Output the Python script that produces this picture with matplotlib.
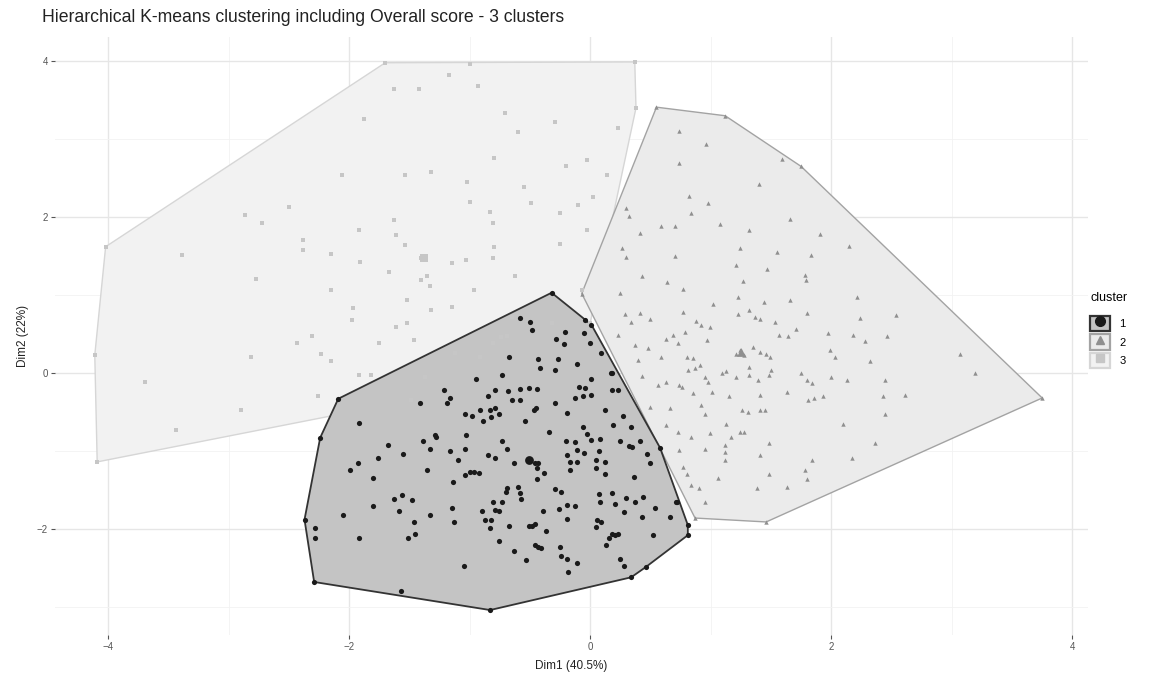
import numpy as np
import matplotlib
matplotlib.use("Agg")
import matplotlib.pyplot as plt
from matplotlib.patches import Polygon, Patch
from matplotlib.lines import Line2D

plt.rcParams['font.family'] = ['Liberation Sans', 'DejaVu Sans']

# cluster 1 (dark, circles)
c1_x = [-0.58, -0.50, -0.48, -0.21, -0.28, -0.05, -0.22, 0.00, 0.09, -0.67,
        -0.43, -0.27, -0.11, -0.42, -0.29, -0.73, -0.95, 0.01, 0.18, -1.21,
        -1.16, -1.19, -1.41, -0.85, -0.79, -0.68, -0.58, -0.51, -0.44, -0.65,
        -0.58, -0.09, -0.04, -0.13, -0.06, 0.01, 0.18, 0.23, -0.45, -0.47,
        -0.29, -0.91, -0.83, -0.79, -0.76, -1.04, -0.98, -0.89, -0.82, -0.54,
        -0.19, 0.12, 0.27, 0.19, -0.06, 0.34, -1.92, -1.28, -1.29, -1.03,
        -1.39, -1.33, -1.16, -1.04, -1.68, -1.55, -0.73, -0.69, -0.34, -0.03,
        0.25, 0.32, 0.35, 0.41, -0.20, -0.13, 0.01, 0.08, -0.11, -0.05,
        -0.19, 0.07, 0.47, 0.50, -1.76, -1.93, -1.99, -1.80, -1.35, -1.10,
        -0.85, -0.79, -0.63, -0.46, -0.43, -0.44, -0.38, -0.44, -1.04, -1.00,
        -0.96, -0.92, -1.14, -0.17, -0.11, -0.17, 0.05, 0.12, 0.05, 0.12,
        0.36, -1.63, -1.56, -1.48, -1.59, -1.80, -2.05, -1.33, -1.15, -1.46,
        -1.51, -1.45, -1.92, -1.13, -0.90, -0.81, -0.73, -0.79, -0.76, -0.87,
        -0.82, -0.83, -0.69, -0.70, -0.60, -0.58, -0.57, -0.29, -0.24, -0.26,
        -0.19, -0.13, -0.39, -0.19, -0.67, -0.51, -0.48, -0.46, -0.37, -0.76,
        0.07, 0.08, 0.18, 0.21, 0.30, 0.37, 0.44, 0.28, 0.43, 0.54,
        0.66, 0.72, 0.06, 0.09, 0.05, 0.18, 0.21, 0.23, 0.16, 0.13,
        0.52, -0.46, -0.43, -0.41, -0.25, -0.24, -0.19, -0.11, -0.18, -0.53,
        -0.63, -1.05, 0.25, 0.28, -2.28, -2.28,
        -0.32, -0.04, 0.01, 0.17, 0.58, 0.71, 0.81, 0.81, 0.46, 0.34,
        -0.83, -1.57, -2.29, -2.37, -2.24, -2.09]
c1_y = [0.70, 0.66, 0.55, 0.53, 0.44, 0.51, 0.37, 0.38, 0.26, 0.20,
        0.18, 0.18, 0.12, 0.06, 0.04, -0.03, -0.08, -0.08, 0.00, -0.22,
        -0.32, -0.38, -0.38, -0.30, -0.22, -0.23, -0.20, -0.19, -0.20, -0.35,
        -0.35, -0.18, -0.19, -0.32, -0.30, -0.28, -0.22, -0.22, -0.45, -0.47,
        -0.38, -0.47, -0.47, -0.45, -0.52, -0.52, -0.55, -0.62, -0.57, -0.62,
        -0.51, -0.47, -0.55, -0.67, -0.69, -0.69, -0.64, -0.82, -0.79, -0.79,
        -0.87, -0.97, -1.00, -0.97, -0.92, -1.04, -0.87, -0.98, -0.76, -0.78,
        -0.87, -0.93, -0.95, -0.87, -0.87, -0.89, -0.86, -0.85, -0.99, -1.03,
        -1.05, -1.00, -1.04, -1.16, -1.09, -1.15, -1.24, -1.34, -1.24, -1.11,
        -1.05, -1.09, -1.15, -1.15, -1.16, -1.22, -1.28, -1.36, -1.31, -1.27,
        -1.27, -1.28, -1.40, -1.14, -1.14, -1.25, -1.12, -1.14, -1.22, -1.29,
        -1.33, -1.61, -1.56, -1.63, -1.77, -1.71, -1.82, -1.82, -1.73, -1.91,
        -2.11, -2.07, -2.11, -1.91, -1.77, -1.65, -1.65, -1.76, -1.77, -1.88,
        -1.88, -1.99, -1.48, -1.52, -1.46, -1.54, -1.61, -1.49, -1.52, -1.75,
        -1.69, -1.71, -1.77, -1.87, -1.96, -1.96, -1.96, -1.94, -2.02, -2.15,
        -1.55, -1.65, -1.54, -1.68, -1.60, -1.65, -1.59, -1.78, -1.85, -1.73,
        -1.85, -1.65, -1.88, -1.91, -1.97, -2.06, -2.08, -2.06, -2.11, -2.21,
        -2.08, -2.20, -2.23, -2.25, -2.23, -2.35, -2.38, -2.44, -2.55, -2.40,
        -2.28, -2.48, -2.38, -2.47, -1.99, -2.11,
        1.03, 0.68, 0.62, 0.00, -0.96, -1.65, -1.95, -2.08, -2.49, -2.62,
        -3.04, -2.79, -2.68, -1.88, -0.83, -0.33]

# cluster 2 (mid grey, triangles)
c2_x = [0.74, 0.96, 0.74, 1.40, 0.82, 0.98, 0.30, 0.32, 0.84, 1.66,
        0.59, 0.70, 1.08, 0.41, 1.32, 1.91, 2.15, 0.26, 0.30, 0.70,
        1.24, 1.55, 1.83, 1.21, 1.47, 1.78, 1.79, 0.43, 0.64, 0.77,
        1.27, 0.25, 1.02, 1.23, 1.44, 1.66, 2.21, 0.29, 0.41, 0.50,
        0.77, 1.23, 1.32, 1.37, 1.41, 1.53, 1.80, 2.24, 2.54, 0.23,
        0.34, 0.37, 0.48, 0.59, 0.63, 0.69, 0.73, 0.79, 0.88, 0.92,
        0.99, 0.97, 1.21, 1.24, 1.28, 1.35, 1.41, 1.46, 1.49, 1.57,
        1.64, 1.71, 1.97, 2.18, 2.28, 2.46, 1.99, 2.03, 2.32, 3.07,
        3.19, 0.40, 0.43, 0.56, 0.63, 0.74, 0.80, 0.85, 0.81, 0.87,
        0.91, 0.95, 0.98, 1.09, 1.13, 1.21, 1.32, 1.32, 1.39, 1.48,
        1.50, 1.75, 1.80, 1.84, 2.00, 2.13, 2.45, 1.63, 1.41, 1.15,
        1.01, 0.85, 0.76, 0.50, 0.66, 0.92, 0.95, 1.26, 1.31, 1.41,
        1.45, 1.81, 1.86, 1.93, 2.43, 2.61, 2.45, 2.10, 0.63, 0.73,
        0.84, 0.99, 1.13, 1.17, 1.24, 1.28, 1.12, 1.12, 1.12, 0.95,
        0.74, 1.41, 1.48, 1.84, 1.78, 1.80, 2.17, 2.36, 0.77, 0.80,
        1.06, 1.48, 0.84, 0.90, 0.95, 1.38, 1.63,
        0.55, 1.12, 1.59, 1.75, 3.75, 1.46, 0.87, -0.07]
c2_y = [3.11, 2.94, 2.70, 2.42, 2.27, 2.18, 2.12, 2.01, 2.05, 1.98,
        1.88, 1.88, 1.91, 1.80, 1.83, 1.78, 1.63, 1.61, 1.49, 1.50,
        1.60, 1.55, 1.51, 1.39, 1.33, 1.26, 1.19, 1.24, 1.17, 1.08,
        1.18, 1.03, 0.89, 0.97, 0.91, 0.94, 0.97, 0.76, 0.77, 0.69,
        0.78, 0.76, 0.81, 0.72, 0.69, 0.65, 0.77, 0.70, 0.74, 0.49,
        0.65, 0.36, 0.32, 0.21, 0.44, 0.49, 0.39, 0.52, 0.67, 0.62,
        0.59, 0.42, 0.25, 0.29, 0.23, 0.34, 0.27, 0.25, 0.21, 0.49,
        0.47, 0.57, 0.51, 0.49, 0.41, 0.47, 0.29, 0.21, 0.15, 0.24,
        0.00, 0.17, -0.04, -0.15, -0.11, -0.15, 0.21, 0.19, 0.04, 0.06,
        0.10, -0.05, -0.11, 0.00, 0.02, -0.05, 0.08, -0.03, -0.09, -0.03,
        0.04, 0.00, -0.09, -0.13, -0.05, -0.09, -0.09, -0.24, -0.28, -0.30,
        -0.24, -0.26, -0.18, -0.43, -0.45, -0.41, -0.52, -0.47, -0.50, -0.47,
        -0.47, -0.35, -0.32, -0.29, -0.30, -0.28, -0.52, -0.65, -0.67, -0.75,
        -0.82, -0.77, -0.65, -0.82, -0.75, -0.75, -0.92, -1.01, -1.12, -0.98,
        -0.99, -1.05, -0.90, -1.12, -1.24, -1.36, -1.09, -0.90, -1.20, -1.29,
        -1.34, -1.29, -1.44, -1.48, -1.65, -1.48, -1.46,
        3.41, 3.30, 2.75, 2.65, -0.32, -1.91, -1.86, 1.02]

# cluster 3 (light grey, squares)
c3_x = [-1.17, -1.63, -1.42, -0.93, -0.71, -0.60, -1.88, -0.29, 0.23, -0.80,
        -0.03, -0.20, -2.06, -1.54, -1.32, -1.02, -0.55, 0.02, 0.14, -1.00,
        -0.83, -0.49, -0.25, -0.10, -2.50, -2.86, -2.72, -1.92, -1.63, -1.61,
        -1.54, -0.81, -0.03, -2.38, -2.38, -0.80, -0.25, -2.15, -1.91, -1.67,
        -1.40, -1.36, -1.15, -1.03, -0.81, -1.35, -1.40, -1.33, -0.62, -0.96,
        -3.39, -2.77, -2.15, -1.97, -1.52, -1.15, -1.32, -1.98, -1.61, -1.52,
        -1.75, -1.46, -2.31, -2.43, -2.23, -2.15, -2.81, -1.92, -1.82, -3.69,
        -2.26, -2.90, -3.44, -0.65, -0.81, -0.69,
        -0.32, -0.74, -0.91, -1.12, -1.37,
        -4.02, -4.11, -4.09, -1.49, 0.00, -0.07, 0.38, 0.37, -1.70, -1.00]
c3_y = [3.82, 3.64, 3.64, 3.68, 3.33, 3.09, 3.26, 3.22, 3.14, 2.76,
        2.73, 2.65, 2.54, 2.54, 2.58, 2.45, 2.39, 2.26, 2.54, 2.20,
        2.07, 2.18, 2.05, 2.15, 2.13, 2.03, 1.92, 1.83, 1.96, 1.77,
        1.64, 1.92, 1.83, 1.71, 1.58, 1.62, 1.66, 1.53, 1.43, 1.30,
        1.47, 1.47, 1.41, 1.45, 1.47, 1.24, 1.19, 1.11, 1.24, 1.06,
        1.51, 1.21, 1.06, 0.83, 0.94, 0.85, 0.81, 0.68, 0.59, 0.64,
        0.38, 0.42, 0.47, 0.38, 0.25, 0.15, 0.21, -0.03, -0.03, -0.11,
        -0.30, -0.47, -0.73, 0.72, 0.38, 0.47,
        0.64, 0.46, 0.21, 0.26, -0.05,
        1.62, 0.23, -1.14, -0.35, 0.64, 1.06, 3.40, 3.99, 3.98, 3.97]

clusters = ['1', '2', '3']
center_x = [-0.51, 1.25, -1.38]
center_y = [-1.12, 0.27, 1.47]

fill_cols = ['#c4c4c4', '#ebebeb', '#f2f2f2']
edge_cols = ['#333333', '#a3a3a3', '#d6d6d6']
pt_cols = ['#1a1a1a', '#8f8f8f', '#c6c6c6']
markers = ['o', '^', 's']


def convex_hull(xs, ys):
    pts = sorted(set(zip(xs, ys)))
    def cross(o, a, b):
        return (a[0]-o[0])*(b[1]-o[1]) - (a[1]-o[1])*(b[0]-o[0])
    lower = []
    for p in pts:
        while len(lower) >= 2 and cross(lower[-2], lower[-1], p) <= 0:
            lower.pop()
        lower.append(p)
    upper = []
    for p in reversed(pts):
        while len(upper) >= 2 and cross(upper[-2], upper[-1], p) <= 0:
            upper.pop()
        upper.append(p)
    return np.array(lower[:-1] + upper[:-1])


fig = plt.figure(figsize=(11.59, 6.78), dpi=100)
ax = fig.add_axes([55/1159, 1-635/678, (1088-55)/1159, (635-37)/678])

data = [(c1_x, c1_y), (c2_x, c2_y), (c3_x, c3_y)]

# polygons, cluster 3 at the back
for k in [2, 1, 0]:
    hx, hy = data[k]
    hull = convex_hull(hx, hy)
    ax.add_patch(Polygon(hull, closed=True, facecolor=fill_cols[k],
                         edgecolor=edge_cols[k], linewidth=1.3 if k == 0 else 1.0,
                         zorder=1 + (2 - k)))

for k in [2, 1, 0]:
    px, py = data[k]
    ax.scatter(px, py, marker=markers[k], s=14 if k == 0 else 10,
               color=pt_cols[k], linewidths=0, zorder=5)
    ax.scatter([center_x[k]], [center_y[k]], marker=markers[k], s=40,
               color=pt_cols[k], linewidths=0, zorder=6)

ax.set_xlim(-4.44, 4.13)
ax.set_ylim(-3.36, 4.31)

ax.set_xticks([-4, -2, 0, 2, 4])
ax.set_xticks([-3, -1, 1, 3], minor=True)
ax.set_yticks([-2, 0, 2, 4])
ax.set_yticks([-3, -1, 1, 3], minor=True)
ax.grid(True, which='major', color='#e6e6e6', linewidth=1.0, zorder=0)
ax.grid(True, which='minor', color='#f2f2f2', linewidth=0.6, zorder=0)
ax.set_axisbelow(True)
for s in ax.spines.values():
    s.set_visible(False)
ax.tick_params(which='major', length=3, color='#555555', labelsize=7, labelcolor='#555555', pad=2)
ax.tick_params(which='minor', length=0)

ax.set_xlabel('Dim1 (40.5%)', fontsize=8.5, color='#222222', labelpad=6)
ax.set_ylabel('Dim2 (22%)', fontsize=8.5, color='#222222', labelpad=6)

fig.text(42/1159, 1-18/678, 'Hierarchical K-means clustering including Overall score - 3 clusters',
         fontsize=12.7, color='#222222', va='center', ha='left')

handles = []
for k in range(3):
    handles.append((Patch(facecolor=fill_cols[k], edgecolor=edge_cols[k], linewidth=1.6),
                    Line2D([], [], marker=markers[k], color=pt_cols[k], linestyle='',
                           markersize=7 if k == 0 else 5.5)))
leg = ax.legend(handles, clusters, title='cluster', loc='upper left',
                bbox_to_anchor=(1086/1159, 1-288/678), bbox_transform=fig.transFigure,
                frameon=False, fontsize=8, title_fontsize=9,
                handlelength=1.8, handleheight=1.8, handletextpad=0.8,
                labelspacing=0.25, borderaxespad=0)
leg._legend_box.align = 'left'
leg._legend_box.sep = 8

fig.savefig('out.png', dpi=100)
